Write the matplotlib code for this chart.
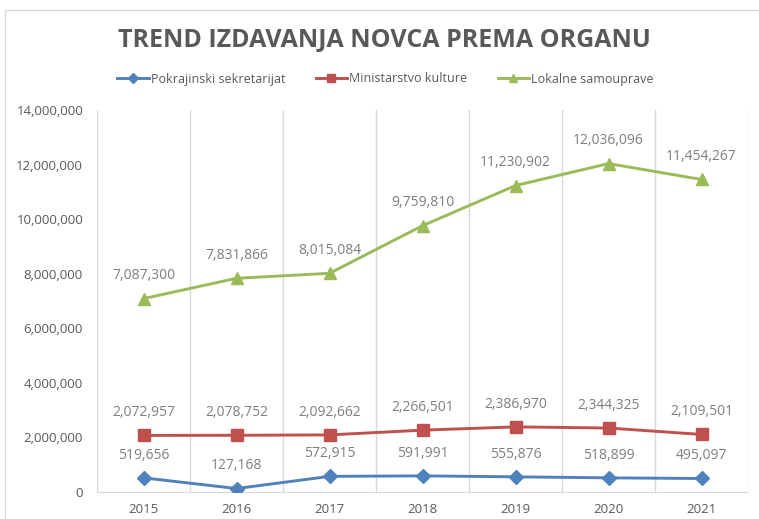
import matplotlib.pyplot as plt
from matplotlib.patches import Rectangle
from matplotlib.ticker import FuncFormatter, MultipleLocator

# Data
years = ["2015", "2016", "2017", "2018", "2019", "2020", "2021"]
pokrajinski = [519656, 127168, 572915, 591991, 555876, 518899, 495097]
ministarstvo = [2072957, 2078752, 2092662, 2266501, 2386970, 2344325, 2109501]
lokalne = [7087300, 7831866, 8015084, 9759810, 11230902, 12036096, 11454267]

series_names = ["Pokrajinski sekretarijat", "Ministarstvo kulture", "Lokalne samouprave"]
colors = ["#4F81BD", "#C0504D", "#9BBB59"]
markers = ["D", "s", "^"]

plt.rcParams['font.family'] = ['Open Sans', 'DejaVu Sans']

fig = plt.figure(figsize=(7.59, 5.19), dpi=100)
# chart area border (cropped on the right like the original)
fig.patches.append(Rectangle((5 / 759, -0.1), 1.0, 1 - 10 / 519 + 0.1, transform=fig.transFigure,
                             fill=False, edgecolor="#D9D9D9", linewidth=1.0))

ax = fig.add_axes([97 / 759, 27 / 519, 651 / 759, 382 / 519])

x = list(range(len(years)))
for vals, name, c, m in zip([pokrajinski, ministarstvo, lokalne], series_names, colors, markers):
    ms = 7 if m == "D" else 8
    ax.plot(x, vals, color=c, marker=m, markersize=ms, linewidth=2.1, label=name, zorder=3)
    for xi, v in zip(x, vals):
        ax.annotate(f"{v:,}", (xi, v), xytext=(0, 11), textcoords="offset points",
                    ha="center", va="bottom", fontsize=10, color="#7F7F7F")

ax.set_xlim(-0.5, len(years) - 0.5)
ax.set_ylim(0, 14000000)
ax.yaxis.set_major_locator(MultipleLocator(2000000))
ax.yaxis.set_major_formatter(FuncFormatter(lambda v, p: f"{int(v):,}"))

# vertical gridlines on category boundaries
for b in [i - 0.5 for i in range(len(years) + 1)]:
    ax.axvline(b, color="#D9D9D9", linewidth=1, zorder=1)

ax.set_xticks(x)
ax.set_xticklabels(years)
for s in ["top", "right", "left"]:
    ax.spines[s].set_visible(False)
ax.spines["bottom"].set_color("#D9D9D9")
ax.tick_params(axis="both", length=0, colors="#595959", labelsize=9.5)
ax.tick_params(axis="x", pad=8)
ax.tick_params(axis="y", pad=10)

fig.text(0.507, 1 - 40 / 519, "TREND IZDAVANJA NOVCA PREMA ORGANU", ha="center", va="center",
         fontsize=18, fontweight="bold", color="#595959")

fig.legend(loc="center", bbox_to_anchor=(0.508, 1 - 79 / 519), ncol=3, frameon=False,
           fontsize=9, labelcolor="#595959", handlelength=2.5, handletextpad=0.2,
           columnspacing=2.4, markerscale=0.8)

fig.savefig("out.png", dpi=100)
